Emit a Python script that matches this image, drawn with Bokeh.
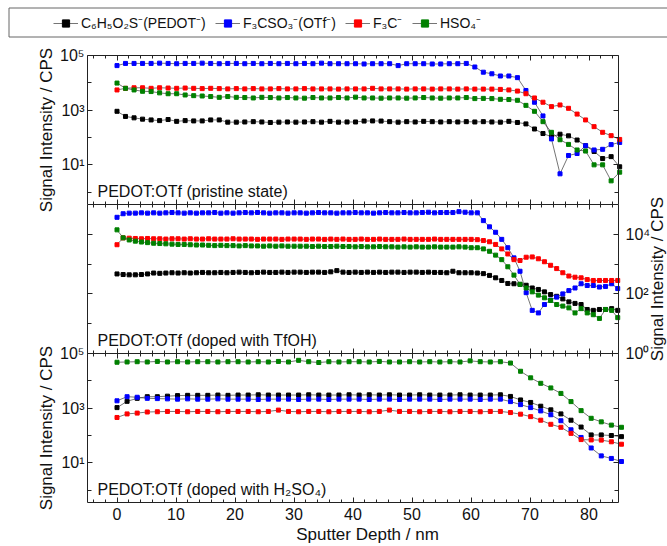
import math
from bokeh.plotting import figure
from bokeh.models import (Range1d, LogScale, LinearAxis, LogAxis, FixedTicker,
                          SingleIntervalTicker, CustomJSTickFormatter, Label,
                          Legend, LegendItem, ColumnDataSource)
from bokeh.embed import file_html
from bokeh.resources import INLINE

# ------------------------------------------------------------------ data
SERIES = ["C\u2086H\u2085O\u2082S\u207b(PEDOT\u207b)", "F\u2083CSO\u2083\u207b(OTf\u207b)",
          "F\u2083C\u207b", "HSO\u2084\u207b"]
COLORS = ["#000000", "#0000ff", "#ff0000", "#008000"]
PANEL_TITLES = ["PEDOT:OTf (pristine state)", "PEDOT:OTf (doped with TfOH)",
                "PEDOT:OTf (doped with H\u2082SO\u2084)"]
X_LABEL = "Sputter Depth / nm"
Y_LABEL = "Signal Intensity / CPS"
X_LIM = (-5, 85)
P1_LIM = (10 ** -0.45, 1e5)
P2_LIM = (1.0, 1e5)
P3_LIM = (10 ** -0.45, 1e5)
P13_MAJOR = [1e1, 1e3, 1e5]
P13_MINOR = [1e0, 1e2, 1e4]
P2_MAJOR = [1e0, 1e2, 1e4]
P2_MINOR = [1e1, 1e3]

# panel 1 : pristine
P1_DEPTH = [0, 1.44, 2.89, 4.33, 5.78, 7.22, 8.66, 10.11, 11.55, 13.0,
            14.44, 15.88, 17.33, 18.77, 20.22, 21.66, 23.1, 24.55, 25.99, 27.44,
            28.88, 30.32, 31.77, 33.21, 34.66, 36.1, 37.54, 38.99, 40.43, 41.88,
            43.32, 44.76, 46.21, 47.65, 49.1, 50.54, 51.98, 53.43, 54.87, 56.32,
            57.76, 59.2, 60.65, 62.09, 63.54, 64.98, 66.42, 67.87, 69.31, 70.76,
            72.2, 73.64, 75.09, 76.53, 77.98, 79.42, 80.86, 82.31, 83.75, 85.2]
P1_PEDOT = [910, 590, 525, 470, 440, 415, 455, 390, 415, 405,
            405, 440, 440, 365, 365, 370, 380, 370, 355, 365,
            370, 365, 370, 380, 365, 390, 365, 370, 370, 400,
            405, 400, 380, 365, 380, 370, 390, 380, 370, 380,
            370, 380, 370, 380, 370, 365, 390, 355, 315, 205,
            140, 107, 132, 115, 81, 50, 31, 17, 20, 8.5]
P1_OTF = [42700, 51300, 51300, 51300, 51300, 52500, 51300, 50100, 51300, 51300,
          52500, 51300, 50100, 51300, 51300, 50100, 51300, 50100, 51300, 50100,
          51300, 50100, 51300, 50100, 52500, 50100, 50100, 50100, 50100, 49000,
          50100, 50100, 50100, 42700, 50100, 50100, 50100, 49000, 49000, 50100,
          50100, 51300, 38000, 24500, 21400, 17800, 17800, 15500, 5250, 1950,
          617, 89, 4.7, 22, 26, 50, 35, 37, 55, 66]
P1_F3C = [5500, 6300, 6600, 6600, 6300, 6600, 6450, 6300, 6450, 6300,
          6150, 6300, 6150, 6000, 6150, 6000, 6150, 6000, 6000, 6150,
          6000, 6000, 6150, 6000, 6000, 6000, 5900, 6000, 6000, 6000,
          6300, 6000, 6000, 6000, 5900, 6000, 6000, 5900, 6000, 6000,
          5900, 6000, 5900, 5900, 5900, 5750, 5500, 5000, 4000, 2800,
          1950, 1350, 1550, 1170, 720, 440, 250, 155, 117, 85]
P1_HSO4 = [9800, 6300, 5500, 4900, 4800, 4300, 4000, 4000, 3600, 3400,
           3300, 3150, 2950, 3150, 2950, 2900, 2800, 2950, 2900, 2800,
           2900, 2800, 2750, 2900, 2800, 2800, 2900, 2800, 3000, 2800,
           2800, 2750, 2800, 2800, 2750, 2800, 2900, 2800, 2750, 2800,
           2800, 2900, 2650, 2700, 2650, 2500, 2450, 2300, 1500, 910,
           380, 155, 83, 56, 35, 32, 10, 10, 2.6, 5.4]

# panel 2 : doped with TfOH
P2_DEPTH = [0, 1.04, 2.07, 3.11, 4.14, 5.18, 6.21, 7.25, 8.28, 9.32,
            10.35, 11.39, 12.42, 13.46, 14.49, 15.53, 16.56, 17.6, 18.63, 19.67,
            20.7, 21.74, 22.77, 23.81, 24.84, 25.88, 26.91, 27.95, 28.98, 30.02,
            31.05, 32.09, 33.12, 34.16, 35.19, 36.23, 37.26, 38.3, 39.33, 40.37,
            41.4, 42.44, 43.47, 44.51, 45.54, 46.58, 47.61, 48.65, 49.68, 50.72,
            51.75, 52.79, 53.82, 54.86, 55.89, 56.93, 57.96, 59.0, 60.03, 61.07,
            62.1, 63.14, 64.17, 65.21, 66.24, 67.28, 68.31, 69.35, 70.38, 71.42,
            72.45, 73.49, 74.52, 75.56, 76.59, 77.63, 78.66, 79.7, 80.73, 81.77,
            82.8, 83.84, 84.87]
P2_PEDOT = [468, 447, 437, 437, 447, 468, 501, 490, 501, 513,
            501, 513, 501, 513, 525, 513, 513, 525, 513, 525,
            537, 525, 513, 525, 537, 525, 525, 537, 525, 537,
            537, 525, 537, 537, 525, 550, 603, 537, 525, 537,
            525, 537, 525, 537, 525, 537, 537, 525, 537, 537,
            525, 537, 525, 525, 513, 575, 513, 513, 513, 501,
            479, 417, 347, 282, 224, 219, 209, 195, 158, 141,
            117, 95, 83, 68, 54, 48, 44, 30, 28, 30,
            30, 32, 28]
P2_OTF = [37200, 49000, 51300, 51300, 52500, 51300, 52500, 51300, 52500, 53700,
          52500, 51300, 52500, 51300, 52500, 52500, 53700, 51300, 52500, 51300,
          52500, 53700, 52500, 54000, 52500, 51300, 52500, 52500, 51300, 52500,
          52500, 51300, 52500, 53700, 52500, 52500, 51300, 52500, 52500, 53700,
          52500, 52500, 51300, 52500, 53700, 52500, 52500, 53700, 52500, 52500,
          53700, 55000, 52500, 53700, 53700, 53700, 57500, 55000, 52500, 52500,
          28800, 17800, 11700, 6760, 3550, 1620, 575, 110, 28, 23,
          44, 62, 78, 100, 129, 158, 219, 191, 191, 170,
          178, 219, 151]
P2_F3C = [4470, 7590, 7410, 7240, 7080, 7240, 7080, 7080, 6920, 7080,
          7080, 6920, 7080, 6920, 6920, 7080, 6920, 6920, 6920, 7080,
          6920, 6920, 6920, 6760, 6920, 6920, 6920, 6760, 6920, 6920,
          6920, 6760, 6920, 6920, 6760, 6920, 6760, 6920, 6760, 6760,
          6920, 6760, 6760, 6920, 6760, 6760, 6760, 6920, 6760, 6760,
          6760, 6760, 6920, 6760, 6760, 6760, 6760, 6760, 6760, 6610,
          6170, 5620, 4570, 3240, 2190, 1410, 1320, 1700, 1740, 1510,
          1200, 912, 708, 513, 398, 363, 347, 302, 282, 282,
          282, 282, 282]
P2_HSO4 = [14100, 7590, 6460, 5890, 5500, 5250, 5010, 4900, 4790, 4680,
           4570, 4570, 4470, 4370, 4370, 4270, 4170, 4270, 4170, 4170,
           4070, 4170, 4070, 4070, 3980, 4070, 3980, 4070, 3980, 3980,
           3980, 3980, 3890, 3980, 3890, 3890, 3980, 3890, 3890, 3800,
           3890, 3800, 3800, 3890, 3800, 3800, 3720, 3800, 3720, 3800,
           3720, 3720, 3800, 3720, 3720, 3720, 3800, 3720, 3550, 3550,
           3240, 2690, 2000, 1410, 813, 427, 209, 158, 117, 91,
           74, 60, 44, 39, 34, 23, 32, 23, 20, 15,
           30, 28, 16]

# panel 3 : doped with H2SO4
P3_DEPTH = [0, 1.71, 3.42, 5.13, 6.84, 8.55, 10.26, 11.97, 13.68, 15.39,
            17.1, 18.81, 20.52, 22.23, 23.94, 25.65, 27.36, 29.07, 30.78, 32.49,
            34.2, 35.91, 37.62, 39.33, 41.04, 42.75, 44.46, 46.17, 47.88, 49.59,
            51.3, 53.01, 54.72, 56.43, 58.14, 59.85, 61.56, 63.27, 64.98, 66.69,
            68.4, 70.11, 71.82, 73.53, 75.24, 76.95, 78.66, 80.37, 82.08, 83.79,
            85.5]
P3_PEDOT = [1050, 1780, 2290, 2630, 2630, 2750, 2880, 2950, 2950, 2950,
            3020, 2950, 3020, 3020, 3090, 3020, 3020, 3020, 3020, 3090,
            3020, 3020, 3020, 3090, 3020, 3090, 3020, 3090, 3020, 3020,
            3090, 3020, 3020, 3020, 3090, 3020, 3020, 3020, 3090, 2690,
            2000, 1620, 1180, 871, 617, 363, 204, 105, 105, 100,
            91]
P3_OTF = [1860, 2630, 2510, 2290, 2240, 2190, 2140, 2190, 2140, 2140,
          2190, 2140, 2140, 2140, 2090, 2140, 2140, 2140, 2090, 2140,
          2140, 2090, 2140, 2140, 2140, 2090, 2140, 2140, 2090, 2140,
          2140, 2140, 2090, 2140, 2140, 2140, 2090, 2140, 2140, 1740,
          1350, 1050, 794, 575, 347, 162, 85, 35, 18, 14.5,
          11.2]
P3_F3C = [457, 617, 661, 724, 741, 759, 759, 741, 759, 759,
          741, 759, 759, 759, 741, 759, 851, 759, 741, 759,
          759, 741, 759, 759, 759, 741, 759, 851, 759, 759,
          741, 759, 759, 741, 759, 759, 741, 759, 759, 692,
          603, 490, 363, 257, 200, 120, 71, 69, 68, 59,
          48]
P3_HSO4 = [47900, 49000, 50100, 49000, 51300, 49000, 50100, 49000, 50100, 50100,
           49000, 50100, 50100, 49000, 50100, 49000, 51300, 49000, 56200, 50100,
           46800, 50100, 49000, 50100, 50100, 49000, 51300, 49000, 49000, 50100,
           49000, 50100, 49000, 50100, 49000, 53700, 50100, 49000, 50100, 44700,
           22400, 12900, 8130, 5500, 3470, 1740, 813, 427, 316, 240,
           200]

# ------------------------------------------------------------------ layout (canvas px)
FONT = "Liberation Sans"
LINE_C = "#3a3a3a"
AX_C = "#222222"
CW, CH = 667, 546                 # whole canvas = plotting frame
FX0, FX1 = 87, 618                # plot-area left / right
FY0, BAND = 55, 149               # plot-area top, height of each panel
PX_PER_NM = (FX1 - FX0) / (X_LIM[1] - X_LIM[0])


def x_at(cx):
    return X_LIM[0] + (cx - FX0) / PX_PER_NM


def _exps(lim):
    lo, hi = math.log10(lim[0]), math.log10(lim[1])
    return lo, hi, BAND / (hi - lo)


def band_range(lim, k):
    lo, hi, ppd = _exps(lim)
    top = FY0 + k * BAND
    return Range1d(10 ** (lo - (CH - top - BAND) / ppd), 10 ** (hi + top / ppd))


def y_at(lim, k, cy):
    lo, hi, ppd = _exps(lim)
    return 10 ** (hi - (cy - (FY0 + k * BAND)) / ppd)


p = figure(width=CW, height=CH, title=None,
           x_range=Range1d(x_at(0), x_at(CW)), y_range=band_range(P1_LIM, 0),
           y_axis_type="log", x_axis_location=None, y_axis_location=None,
           toolbar_location=None, output_backend="svg",
           min_border_left=0, min_border_right=0, min_border_top=0, min_border_bottom=0)
p.extra_y_ranges = {"p2": band_range(P2_LIM, 1), "p3": band_range(P3_LIM, 2)}
p.extra_y_scales = {"p2": LogScale(), "p3": LogScale()}
p.grid.visible = False
p.outline_line_color = None

sup_fmt = CustomJSTickFormatter(code="""
const sup = ["\u2070","\u00b9","\u00b2","\u00b3","\u2074","\u2075","\u2076","\u2077","\u2078","\u2079"];
const e = Math.round(Math.log10(tick));
let s = String(Math.abs(e)).split("").map(d => sup[+d]).join("");
if (e < 0) { s = "\u207b" + s; }
return "10" + s;
""")


def style_axis(ax, tin, tout, mtin, mtout, labels, standoff):
    ax.axis_line_color = AX_C
    ax.axis_line_width = 1
    ax.major_tick_line_color = AX_C
    ax.minor_tick_line_color = AX_C
    ax.major_tick_in = tin
    ax.major_tick_out = tout
    ax.minor_tick_in = mtin
    ax.minor_tick_out = mtout
    ax.major_label_standoff = standoff
    ax.major_label_text_font = FONT
    ax.major_label_text_font_size = "16px"
    ax.major_label_text_color = "#111111" if labels else None
    ax.axis_label = None


def x_axis(loc, rname, side, tin, tout, labels):
    ax = LinearAxis(fixed_location=loc, y_range_name=rname, bounds=X_LIM,
                    ticker=SingleIntervalTicker(interval=10, num_minor_ticks=5))
    style_axis(ax, tin, tout, 3 if tin else 0, 3 if tout else 0, labels, 5)
    p.add_layout(ax, side)


x_axis(P1_LIM[1], "default", "above", 5, 0, False)
x_axis(P1_LIM[0], "default", "below", 5, 5, False)
x_axis(P3_LIM[1], "p3", "below", 5, 5, False)
x_axis(P3_LIM[0], "p3", "below", 5, 0, True)


def y_axis(rname, lim, major, minor, side, labels):
    ax = LogAxis(fixed_location=X_LIM[0] if side == "left" else X_LIM[1],
                 y_range_name=rname, bounds=lim,
                 ticker=FixedTicker(ticks=major, minor_ticks=minor),
                 formatter=sup_fmt)
    style_axis(ax, 5, 0, 4, 0, labels, 3 if side == "left" else 7)
    p.add_layout(ax, side)


y_axis("default", P1_LIM, P13_MAJOR, P13_MINOR, "left", True)
y_axis("default", P1_LIM, P13_MAJOR, P13_MINOR, "right", False)
y_axis("p2", P2_LIM, P2_MAJOR, P2_MINOR, "left", False)
y_axis("p2", P2_LIM, P2_MAJOR, P2_MINOR, "right", True)
y_axis("p3", P3_LIM, P13_MAJOR, P13_MINOR, "left", True)
y_axis("p3", P3_LIM, P13_MAJOR, P13_MINOR, "right", False)

panels = [("default", P1_LIM, P1_DEPTH, [P1_PEDOT, P1_OTF, P1_F3C, P1_HSO4]),
          ("p2", P2_LIM, P2_DEPTH, [P2_PEDOT, P2_OTF, P2_F3C, P2_HSO4]),
          ("p3", P3_LIM, P3_DEPTH, [P3_PEDOT, P3_OTF, P3_F3C, P3_HSO4])]

legend_renderers = []
for k, (rname, lim, xs, ys_list) in enumerate(panels):
    for ys, col in zip(ys_list, COLORS):
        src = ColumnDataSource(dict(x=xs, y=ys))
        lr = p.line("x", "y", source=src, y_range_name=rname, line_color=LINE_C,
                    line_width=0.7)
        sr = p.scatter("x", "y", source=src, y_range_name=rname, marker="square",
                       size=4, fill_color=col, line_color=col)
        if k == 0:
            legend_renderers.append([lr, sr])

# panel captions
for k, ((rname, lim, _, _), txt) in enumerate(zip(panels, PANEL_TITLES)):
    p.add_layout(Label(x=x_at(FX0 + 10), y=y_at(lim, k, FY0 + (k + 1) * BAND - 13),
                       y_range_name=rname, text=txt, text_font=FONT,
                       text_font_size="16px", text_color="#111111",
                       text_baseline="alphabetic", text_align="left"))

# y-axis titles (panel 1 and 3 on the left, panel 2 on the right)
for k, cx in [(0, 46), (1, 657), (2, 46)]:
    rname, lim = panels[k][0], panels[k][1]
    p.add_layout(Label(x=x_at(cx), y=y_at(lim, k, FY0 + k * BAND + BAND / 2),
                       y_range_name=rname, text=Y_LABEL, angle=math.pi / 2,
                       text_font=FONT, text_font_size="17px", text_color="#111111",
                       text_align="center", text_baseline="middle"))

# x-axis title
p.add_layout(Label(x=x_at(367), y=y_at(P3_LIM, 2, 534), y_range_name="p3",
                   text=X_LABEL, text_font=FONT, text_font_size="17px",
                   text_color="#111111", text_align="center",
                   text_baseline="middle"))

# legend frame (open on the right, like the reference)
p.quad(left=[x_at(8.5)], right=[x_at(CW + 20)], top=[y_at(P1_LIM, 0, 7.5)],
       bottom=[y_at(P1_LIM, 0, 36.5)], fill_color=None, line_color="#666666",
       line_width=1)

LEG_X = [53, 215, 345, 412]
for name, rends, lx in zip(SERIES, legend_renderers, LEG_X):
    lg = Legend(items=[LegendItem(label=name, renderers=rends)],
                location=(lx, CH - 32), orientation="horizontal",
                padding=0, margin=0, spacing=0, glyph_width=25, glyph_height=18,
                label_standoff=3, label_height=18, border_line_color=None,
                background_fill_alpha=0, label_text_font=FONT,
                label_text_font_size="14px", label_text_color="#111111")
    p.add_layout(lg, "center")

with open("out.html", "w", encoding="utf-8") as f:
    f.write(file_html(p, INLINE, "depth profile"))
